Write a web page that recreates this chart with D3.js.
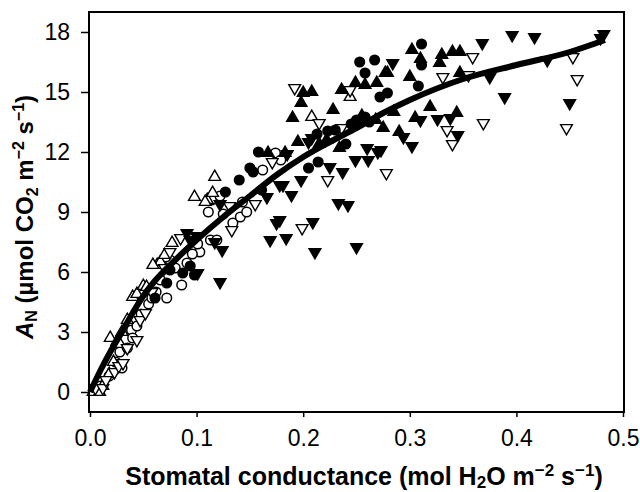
<!DOCTYPE html>
<html>
<head>
<meta charset="utf-8">
<script src="https://cdn.jsdelivr.net/npm/d3@7"></script>
<style>
  body { margin: 0; background: #fff; }
  svg { display: block; font-family: Arial, "Liberation Sans", sans-serif; }
</style>
</head>
<body>
<svg width="640" height="492"></svg>
<script>
// axis ticks
const xTicks = [0, 0.1, 0.2, 0.3, 0.4, 0.5];
const yTicks = [0, 3, 6, 9, 12, 15, 18];

// [stomatal conductance, A_N], one list per marker style
const openCircles = [
    [0.010, 0.3], [0.018, 0.8], [0.024, 1.5], [0.028, 2.0], [0.035, 2.2], [0.039, 3.1],
    [0.044, 3.3], [0.048, 3.9], [0.055, 4.4], [0.062, 5.0], [0.072, 4.7], [0.066, 5.6],
    [0.075, 6.6], [0.071, 6.75], [0.086, 5.35], [0.091, 6.45], [0.103, 7.0], [0.113, 7.6],
    [0.119, 7.6], [0.134, 8.45], [0.141, 8.75], [0.147, 9.0], [0.114, 9.6], [0.111, 9.0],
    [0.122, 9.8], [0.162, 11.1], [0.174, 11.95], [0.096, 6.9], [0.101, 7.4], [0.058, 4.7],
    [0.080, 6.2], [0.030, 1.2], [0.040, 2.7], [0.125, 8.9], [0.143, 9.5], [0.179, 11.6]
];
const openUp = [
    [0.003, 0.0], [0.009, 0.0], [0.012, 0.3], [0.018, 0.9], [0.019, 2.7], [0.022, 1.5],
    [0.025, 2.5], [0.030, 3.0], [0.035, 3.6], [0.040, 4.75], [0.044, 4.9], [0.050, 5.3],
    [0.063, 6.35], [0.066, 6.5], [0.070, 6.85], [0.077, 7.45], [0.098, 9.75], [0.110, 9.6],
    [0.115, 9.95], [0.117, 10.75], [0.108, 9.5], [0.208, 13.75], [0.244, 14.75], [0.028, 2.4],
    [0.053, 5.25], [0.059, 6.35]
];
const openDown = [
    [0.005, 0.2], [0.012, 0.2], [0.015, 0.6], [0.023, 1.0], [0.027, 1.3], [0.031, 1.45],
    [0.035, 2.2], [0.044, 2.6], [0.047, 3.6], [0.052, 3.95], [0.058, 5.0], [0.070, 6.2],
    [0.075, 7.0], [0.085, 7.7], [0.133, 8.1], [0.171, 11.5], [0.199, 8.2], [0.223, 10.6],
    [0.215, 13.45], [0.236, 13.2], [0.244, 15.1], [0.192, 15.2], [0.278, 10.95], [0.331, 15.75],
    [0.355, 15.85], [0.359, 16.75], [0.453, 16.75], [0.457, 15.65], [0.369, 13.45],
    [0.447, 13.2], [0.335, 13.1], [0.340, 12.4], [0.155, 9.4], [0.131, 9.3]
];
const filledCircles = [
    [0.061, 4.7], [0.072, 5.45], [0.075, 6.1], [0.087, 5.95], [0.098, 5.85], [0.127, 10.0],
    [0.150, 11.2], [0.153, 11.0], [0.158, 12.0], [0.161, 10.1], [0.205, 11.2], [0.214, 11.5],
    [0.223, 13.05], [0.253, 16.5], [0.267, 16.6], [0.258, 15.95], [0.258, 13.75], [0.272, 14.75],
    [0.279, 14.95], [0.311, 17.4], [0.311, 16.35], [0.308, 15.3], [0.250, 13.6], [0.245, 13.4],
    [0.240, 12.4], [0.213, 12.9], [0.262, 13.5], [0.230, 13.1], [0.094, 6.3], [0.140, 10.6]
];
const filledUp = [
    [0.234, 12.2], [0.228, 14.1], [0.190, 13.7], [0.198, 14.45], [0.200, 14.95], [0.208, 15.0],
    [0.236, 15.1], [0.249, 15.45], [0.258, 15.35], [0.269, 15.45], [0.277, 15.95], [0.279, 15.95],
    [0.300, 15.75], [0.302, 17.1], [0.310, 16.65], [0.328, 16.45], [0.330, 16.85], [0.340, 17.0],
    [0.347, 17.0], [0.347, 15.95], [0.319, 14.25], [0.305, 13.7], [0.344, 13.95], [0.167, 11.95],
    [0.183, 11.95], [0.215, 12.4], [0.255, 13.8], [0.268, 13.6], [0.275, 13.2], [0.285, 14.0],
    [0.195, 12.5], [0.222, 12.6], [0.290, 13.0]
];
const filledDown = [
    [0.091, 7.95], [0.094, 7.6], [0.100, 7.8], [0.101, 5.95], [0.117, 7.5], [0.122, 5.5],
    [0.124, 7.1], [0.166, 9.75], [0.175, 8.45], [0.169, 7.6], [0.184, 7.7], [0.178, 8.6],
    [0.178, 10.35], [0.189, 9.85], [0.181, 10.35], [0.209, 8.5], [0.211, 7.0], [0.250, 7.25],
    [0.233, 9.45], [0.242, 9.35], [0.208, 12.7], [0.205, 12.5], [0.260, 12.2], [0.270, 12.0],
    [0.249, 11.6], [0.261, 11.6], [0.273, 12.1], [0.225, 11.25], [0.237, 11.0], [0.284, 16.45],
    [0.294, 12.75], [0.302, 12.3], [0.310, 13.6], [0.326, 13.65], [0.338, 13.7], [0.345, 12.85],
    [0.368, 17.45], [0.375, 15.75], [0.389, 14.75], [0.396, 17.85], [0.417, 17.75], [0.429, 16.6],
    [0.450, 14.45], [0.482, 17.9], [0.479, 17.7], [0.198, 10.6], [0.185, 11.9], [0.122, 9.4]
];

// fitted curve
const fitCurve = [
    [0, 0], [0.01, 1.1], [0.02, 2.1], [0.03, 3.0], [0.04, 3.95], [0.05, 4.8], [0.06, 5.5],
    [0.08, 6.6], [0.10, 7.6], [0.125, 8.75], [0.15, 9.8], [0.175, 10.85], [0.20, 11.75],
    [0.225, 12.5], [0.25, 13.2], [0.275, 13.95], [0.30, 14.6], [0.35, 15.65], [0.40, 16.35],
    [0.45, 17.0], [0.483, 17.6]
];

const svg = d3.select("svg");
const box = {left: 89, right: 624, top: 12, bottom: 412};

const x = d3.scaleLinear().domain([0, 0.5]).range([90, 623]);
const y = d3.scaleLinear().domain([0, 18]).range([392, 32]);

// axes
const yAxis = svg.append("g")
    .attr("transform", `translate(${box.left},0)`)
    .call(d3.axisLeft(y).tickValues(yTicks).tickSize(8).tickPadding(11));
const xAxis = svg.append("g")
    .attr("transform", `translate(0,${box.bottom})`)
    .call(d3.axisBottom(x).tickValues(xTicks).tickFormat(d3.format(".1f")).tickSize(5).tickPadding(13));

[xAxis, yAxis].forEach(a => {
    a.attr("font-size", 23).attr("font-family", null);
    a.select(".domain").remove();
    a.selectAll("line").attr("stroke", "#000").attr("stroke-width", 1.5);
    a.selectAll("text").attr("fill", "#000");
});

// markers
const tri = d3.symbol().type(d3.symbolTriangle).size(60);
const groups = [
    {data: openCircles, shape: "circle", fill: "#fff", rot: 0},
    {data: openUp, shape: "tri", fill: "#fff", rot: 0},
    {data: openDown, shape: "tri", fill: "#fff", rot: 180},
    {data: filledCircles, shape: "circle", fill: "#000", rot: 0},
    {data: filledUp, shape: "tri", fill: "#000", rot: 0},
    {data: filledDown, shape: "tri", fill: "#000", rot: 180}
];

groups.forEach(gr => {
    const g = svg.append("g");
    if (gr.shape === "circle") {
        g.selectAll("circle")
            .data(gr.data)
            .enter()
            .append("circle")
            .attr("cx", d => x(d[0]))
            .attr("cy", d => y(d[1]))
            .attr("r", 4.8)
            .attr("fill", gr.fill)
            .attr("stroke", "#000")
            .attr("stroke-width", 1.5);
    } else {
        g.selectAll("path")
            .data(gr.data)
            .enter()
            .append("path")
            .attr("d", tri)
            .attr("transform", d => `translate(${x(d[0])},${y(d[1])}) rotate(${gr.rot})`)
            .attr("fill", gr.fill)
            .attr("stroke", "#000")
            .attr("stroke-width", 1.4);
    }
});

// fit line
const line = d3.line()
    .x(d => x(d[0]))
    .y(d => y(d[1]))
    .curve(d3.curveMonotoneX);

svg.append("path")
    .datum(fitCurve)
    .attr("d", line)
    .attr("fill", "none")
    .attr("stroke", "#000")
    .attr("stroke-width", 6);

// frame
svg.append("rect")
    .attr("x", box.left)
    .attr("y", box.top)
    .attr("width", box.right - box.left)
    .attr("height", box.bottom - box.top)
    .attr("fill", "none")
    .attr("stroke", "#000")
    .attr("stroke-width", 2);

// axis titles
const xt = svg.append("text")
    .attr("x", 364)
    .attr("y", 485)
    .attr("text-anchor", "middle")
    .attr("font-size", 25)
    .attr("font-weight", "bold");
xt.append("tspan").text("Stomatal conductance (mol H");
xt.append("tspan").attr("font-size", 17).attr("dy", 3).text("2");
xt.append("tspan").attr("dy", -3).text("O m");
xt.append("tspan").attr("font-size", 17).attr("dy", -9).text("\u22122");
xt.append("tspan").attr("dy", 9).text(" s");
xt.append("tspan").attr("font-size", 17).attr("dy", -9).text("\u22121");
xt.append("tspan").attr("dy", 9).text(")");

const yt = svg.append("text")
    .attr("transform", "translate(33,217) rotate(-90)")
    .attr("text-anchor", "middle")
    .attr("font-size", 24)
    .attr("font-weight", "bold");
yt.append("tspan").attr("font-style", "italic").text("A");
yt.append("tspan").attr("font-size", 16).attr("dy", 4).text("N");
yt.append("tspan").attr("dy", -4).text(" (\u00b5mol CO");
yt.append("tspan").attr("font-size", 16).attr("dy", 5).text("2");
yt.append("tspan").attr("dy", -5).text(" m");
yt.append("tspan").attr("font-size", 16).attr("dy", -9).text("\u22122");
yt.append("tspan").attr("dy", 9).text(" s");
yt.append("tspan").attr("font-size", 16).attr("dy", -9).text("\u22121");
yt.append("tspan").attr("dy", 9).text(")");
</script>
</body>
</html>
